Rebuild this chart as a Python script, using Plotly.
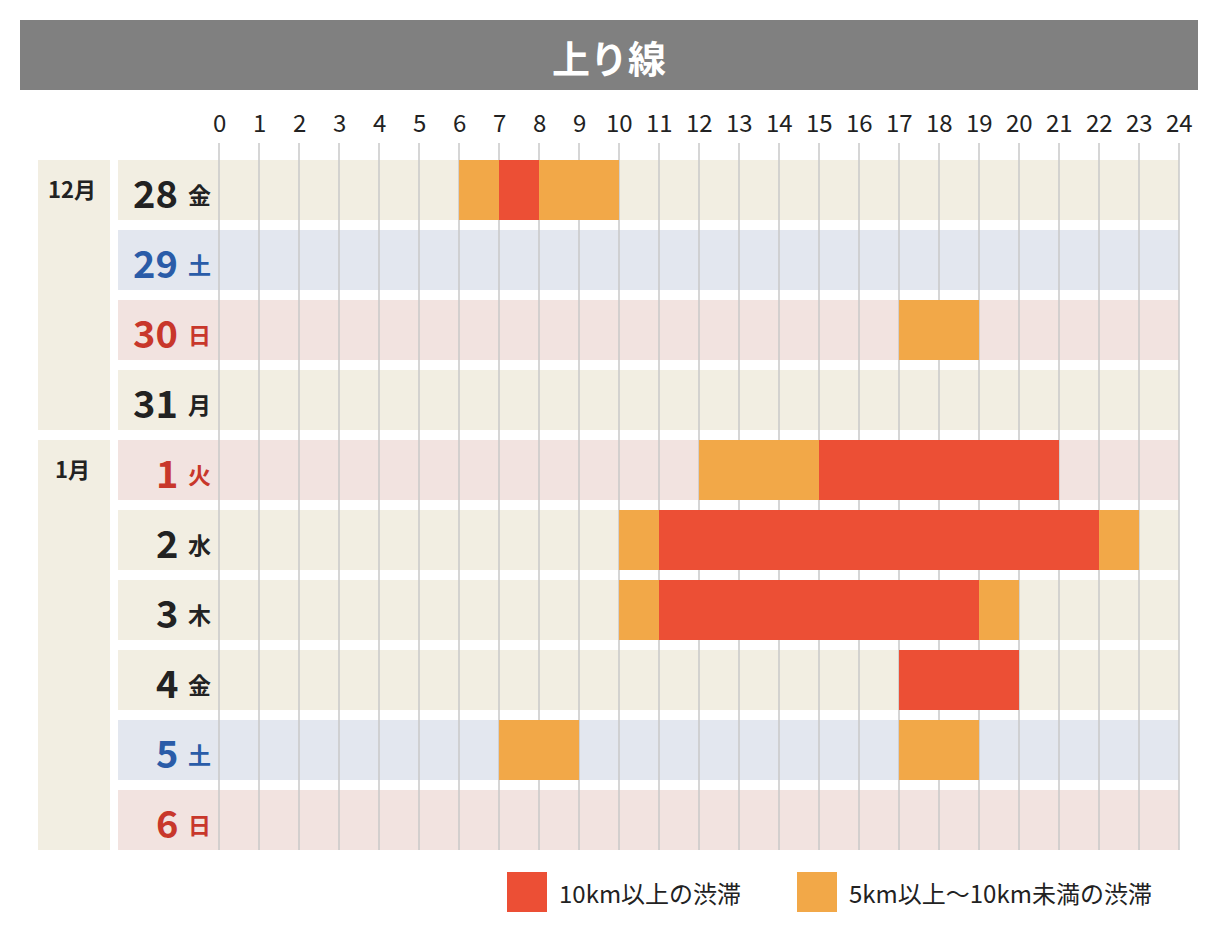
import plotly.graph_objects as go

hours = list(range(25))
days = ["28", "29", "30", "31", "1", "2", "3", "4", "5", "6"]
weekdays = ["金", "土", "日", "月", "火", "水", "木", "金", "土", "日"]
kinds = ["w", "sat", "sun", "w", "sun", "w", "w", "w", "sat", "sun"]
months = [("12月", 0, 3), ("1月", 4, 9)]
# (row index, start hour, end hour, level) level: 1 = 10km+, 0 = 5-10km
jams = [(0, 6, 7, 0), (0, 7, 8, 1), (0, 8, 10, 0),
        (2, 17, 19, 0),
        (4, 12, 15, 0), (4, 15, 21, 1),
        (5, 10, 11, 0), (5, 11, 22, 1), (5, 22, 23, 0),
        (6, 10, 11, 0), (6, 11, 19, 1), (6, 19, 20, 0),
        (7, 17, 20, 1),
        (8, 7, 9, 0), (8, 17, 19, 0)]

RED, ORANGE = "#ec4f35", "#f2a848"
bg = {"w": "#f2eee2", "sat": "#e3e7ef", "sun": "#f2e3e0"}
txt = {"w": "#222222", "sat": "#2a5ca8", "sun": "#c8372b"}
FONT = "Noto Sans CJK JP"
PX = 40.0  # px per hour
X0 = 219
OFF = 8  # page body margin
def yc(i): return 190 + 70 * i

fig = go.Figure()
for lvl, col in [(1, RED), (0, ORANGE)]:
    sel = [j for j in jams if j[3] == lvl]
    fig.add_trace(go.Bar(orientation="h", base=[j[1] for j in sel],
                         x=[j[2] - j[1] for j in sel], y=[yc(j[0]) for j in sel],
                         width=60, marker=dict(color=col, line=dict(width=0)),
                         showlegend=False, hoverinfo="skip"))

xmin = (OFF - X0) / PX
xmax = (OFF + 1218 - X0) / PX
shapes, ann = [], []
shapes.append(dict(type="rect", xref="x", yref="y", x0=(20 - X0) / PX, x1=(1198 - X0) / PX,
                   y0=20, y1=90, fillcolor="#808080", line_width=0, layer="below"))
ann.append(dict(x=(609 - X0) / PX, y=56, text="<b>上り線</b>", showarrow=False,
                font=dict(family=FONT, size=38, color="white")))
for i, k in enumerate(kinds):
    shapes.append(dict(type="rect", xref="x", yref="y", x0=(118 - X0) / PX, x1=24,
                       y0=yc(i) - 30, y1=yc(i) + 30, fillcolor=bg[k], line_width=0, layer="below"))
    ann.append(dict(x=(180 - X0) / PX, y=yc(i) + 1, text="<b>" + days[i] + "</b>", showarrow=False,
                    xanchor="right", font=dict(family=FONT, size=38, color=txt[k])))
    ann.append(dict(x=(199 - X0) / PX, y=yc(i) + 4, text="<b>" + weekdays[i] + "</b>", showarrow=False,
                    font=dict(family=FONT, size=23, color=txt[k])))
for m, a, b in months:
    shapes.append(dict(type="rect", xref="x", yref="y", x0=(38 - X0) / PX, x1=(110 - X0) / PX,
                       y0=yc(a) - 30, y1=yc(b) + 30, fillcolor="#f2eee2", line_width=0, layer="below"))
    ann.append(dict(x=(72 - X0) / PX, y=yc(a) - 2, text="<b>" + m + "</b>", showarrow=False,
                    font=dict(family=FONT, size=22, color="#222222")))
for h in hours:
    shapes.append(dict(type="line", xref="x", yref="y", x0=h, x1=h, y0=143, y1=850,
                       line=dict(color="#c8c8c8", width=1.5), layer="below"))
    ann.append(dict(x=h, y=121, text=str(h), showarrow=False,
                    font=dict(family=FONT, size=24, color="#222222")))
for x, col, label in [(507, RED, "10km以上の渋滞"), (797, ORANGE, "5km以上〜10km未満の渋滞")]:
    shapes.append(dict(type="rect", xref="x", yref="y", x0=(x - X0) / PX, x1=(x + 40 - X0) / PX,
                       y0=872, y1=912, fillcolor=col, line_width=0))
    ann.append(dict(x=(x + 50 - X0) / PX, y=892, text=label, showarrow=False, xanchor="left",
                    font=dict(family=FONT, size=24, color="#222222")))

fig.update_layout(width=1218, height=940, margin=dict(l=0, r=0, t=0, b=0),
                  plot_bgcolor="white", paper_bgcolor="white", barmode="overlay",
                  shapes=shapes, annotations=ann,
                  xaxis=dict(range=[xmin, xmax], visible=False, fixedrange=True),
                  yaxis=dict(range=[940 + OFF, OFF], visible=False, fixedrange=True))
fig.write_html("out.html", config={"displayModeBar": False})
